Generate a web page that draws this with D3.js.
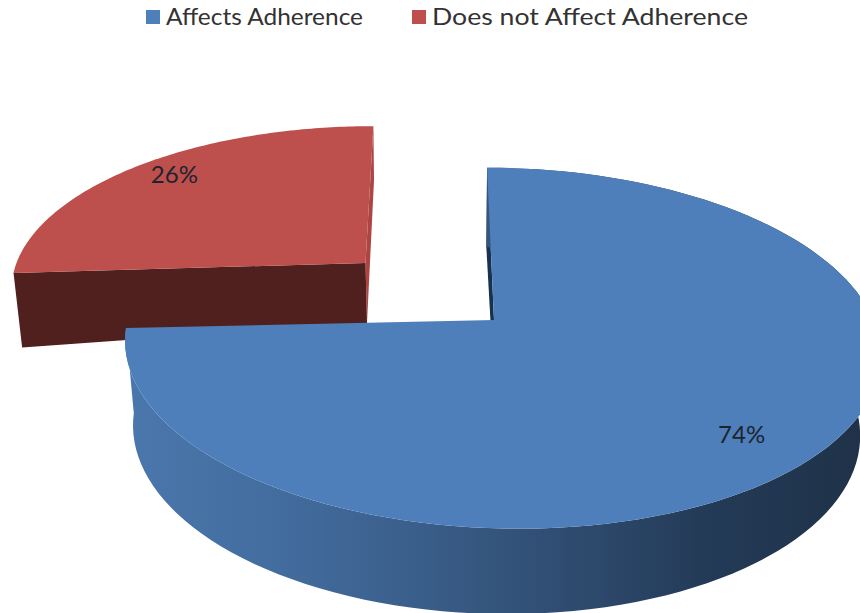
<!DOCTYPE html>
<html>
<head>
<meta charset="utf-8">
<script src="https://d3js.org/d3.v7.min.js"></script>
<style>
  html, body { margin: 0; padding: 0; background: #fff; }
  text { font-family: Lato, "Open Sans", sans-serif; }
</style>
</head>
<body>
<div id="chart"></div>
<script>
var categories = ["Affects Adherence", "Does not Affect Adherence"];
var values = [74, 26];
var colors = ["#4e7fba", "#bd4f4c"];

var svgWidth = 860;
var svgHeight = 613;

var svg = d3.select("#chart")
  .append("svg")
  .attr("width", svgWidth)
  .attr("height", svgHeight)
  .style("display", "block");

// perspective of each slice, top rim and bottom rim
var blueTop = { ax: 494, ay: 320, rx: 373, ry: 176, s: 8, k: 0.156, m: 0.02, t: 3 };
var blueBottom = { ax: 495, ay: 402, rx: 359, ry: 179, s: 10, k: 0.156 };
var redTop = { ax: 365.5, ay: 263, rx: 349, ry: 156, s: -9, k: 0.14, t: 0 };
var redBottom = { ax: 367, ay: 323, rx: 342, ry: 163, s: -8, k: 0.14, t: -14 };

// angle (clockwise from 12 o'clock) and radius fraction -> screen point
function project(p, angle, f) {
  var u = Math.sin(angle) * f;
  var v = -Math.cos(angle) * f;
  var w = 1 - p.k * v - (p.m || 0) * u;
  return [
    p.ax + (p.rx * u + p.s * v) / w,
    p.ay + (p.ry * v + (p.t || 0) * u) / w
  ];
}

function rim(p, start, end) {
  return d3.range(0, 121).map(function(i) {
    return project(p, start + (end - start) * i / 120, 1);
  });
}

var line = d3.line();

var pie = d3.pie().sort(null).startAngle(0).endAngle(2 * Math.PI);
var slices = pie(values);
var blue = slices[0];
var red = slices[1];

// gradient on the blue side wall
var grad = svg.append("defs").append("linearGradient")
  .attr("id", "sideGrad")
  .attr("gradientUnits", "userSpaceOnUse")
  .attr("x1", 125).attr("x2", 860)
  .attr("y1", 0).attr("y2", 0);

[[0, "#4a77ad"], [0.2, "#436d9f"], [0.4, "#3a5e8a"], [0.6, "#2f4c70"], [0.8, "#233a56"], [1, "#1f3249"]]
  .forEach(function(d) {
    grad.append("stop").attr("offset", d[0]).attr("stop-color", d[1]);
  });

// red slice
var rs = project(redTop, red.startAngle, 1);
var re = project(redTop, red.endAngle, 1);
var rsb = project(redBottom, red.startAngle, 1);
var reb = project(redBottom, red.endAngle, 1);
var ra = project(redTop, 0, 0);
var rab = project(redBottom, 0, 0);

svg.append("path")
  .attr("d", line([re, reb, rab, ra]) + "Z")
  .attr("fill", "#ad4543");

svg.append("path")
  .attr("d", line([rs, rsb, rab, ra]) + "Z")
  .attr("fill", "#4f201d");

svg.append("path")
  .attr("d", line(rim(redTop, red.startAngle, red.endAngle).concat([ra])) + "Z")
  .attr("fill", colors[1]);

// blue slice
var ba = project(blueTop, 0, 0);
var bab = project(blueBottom, 0, 0);
var bs = project(blueTop, blue.startAngle, 1);
var bsb = project(blueBottom, blue.startAngle, 1);

svg.append("path")
  .attr("d", line([bs, bsb, bab, ba]) + "Z")
  .attr("fill", "#17324f");

svg.append("path")
  .attr("d", line(rim(blueTop, blue.startAngle, blue.endAngle)
    .concat(rim(blueBottom, blue.startAngle, blue.endAngle).reverse())) + "Z")
  .attr("fill", "url(#sideGrad)");

svg.append("path")
  .attr("d", line(rim(blueTop, blue.startAngle, blue.endAngle).concat([ba])) + "Z")
  .attr("fill", colors[0]);

// percentage labels
var total = d3.sum(values);
var labelSpots = [
  { p: blueTop, d: blue, f: 0.82, dx: -5, dy: 11 },
  { p: redTop, d: red, f: 0.85, dx: 4, dy: 4 }
];

svg.selectAll(".pct")
  .data(labelSpots)
  .enter()
  .append("text")
  .attr("class", "pct")
  .attr("text-anchor", "middle")
  .attr("font-size", 24)
  .attr("fill", "#1c2430")
  .attr("x", function(d) { return project(d.p, (d.d.startAngle + d.d.endAngle) / 2, d.f)[0] + d.dx; })
  .attr("y", function(d) { return project(d.p, (d.d.startAngle + d.d.endAngle) / 2, d.f)[1] + d.dy; })
  .text(function(d) { return Math.round(d.d.value / total * 100) + "%"; });

// legend
var legendX = d3.scaleOrdinal().domain(categories).range([146, 412]);
var legendTextWidth = d3.scaleOrdinal().domain(categories).range([197, 316]);

var legend = svg.selectAll(".legend")
  .data(categories)
  .enter()
  .append("g")
  .attr("class", "legend")
  .attr("transform", function(d) { return "translate(" + legendX(d) + ",0)"; });

legend.append("rect")
  .attr("x", 0)
  .attr("y", 10)
  .attr("width", 14)
  .attr("height", 14)
  .attr("fill", function(d, i) { return colors[i]; });

legend.append("text")
  .attr("x", 20)
  .attr("y", 25)
  .attr("font-size", 24)
  .attr("fill", "#333")
  .attr("textLength", function(d) { return legendTextWidth(d); })
  .attr("lengthAdjust", "spacingAndGlyphs")
  .text(function(d) { return d; });
</script>
</body>
</html>
